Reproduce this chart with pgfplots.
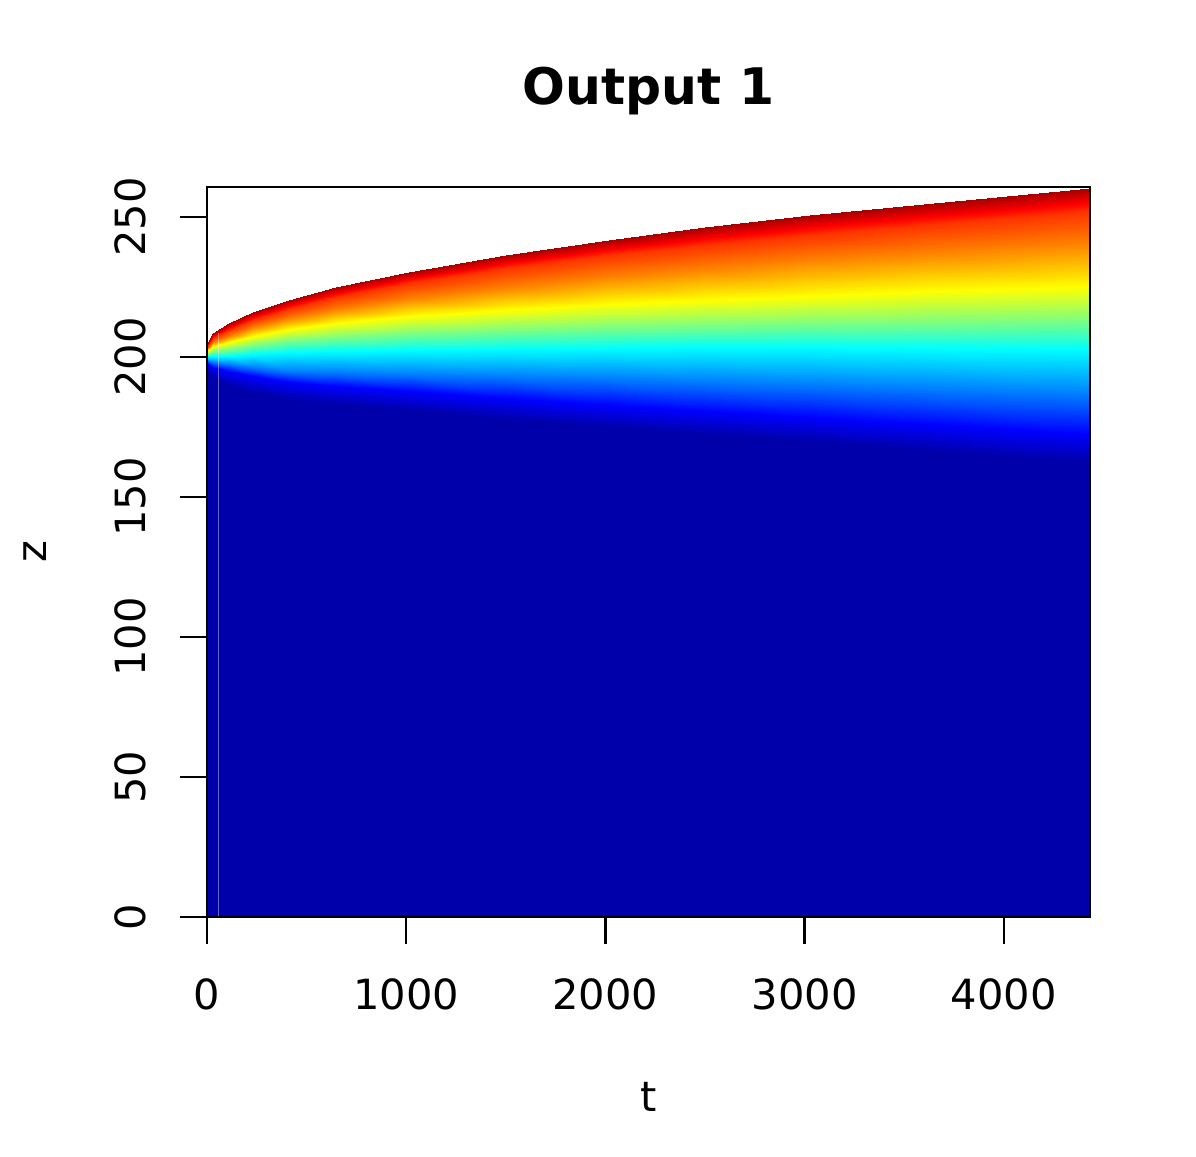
\documentclass[border=0pt]{standalone}
\usepackage{fontspec}
\setmainfont{DejaVu Sans}
\usepackage{pgfplots}
\pgfplotsset{compat=1.18}

\begin{document}
\begin{tikzpicture}
\path[use as bounding box] (-103.5pt,-120pt) rectangle (494.5pt,458.5pt);
\begin{axis}[
  at={(0pt,0pt)}, anchor=south west,
  scale only axis,
  width=441.5pt, height=365pt,
  xmin=0, xmax=4432, ymin=0, ymax=260.7,
  xtick={0,1000,2000,3000,4000},
  ytick={0,50,100,150,200,250},
  xtick pos=bottom, ytick pos=left,
  tick align=outside,
  major tick length=13.5pt,
  every tick/.style={black, line width=1.2pt},
  axis line style={black, line width=1.2pt},
  axis on top,
  /pgf/number format/assume math mode=true,
  /pgf/number format/1000 sep={},
  tick label style={font=\fontsize{20.8}{25}\selectfont},
  xticklabel style={anchor=center, yshift=-25pt},
  yticklabel style={rotate=90, anchor=center, yshift=25pt},
  xlabel={t}, ylabel={z},
  label style={font=\fontsize{20.8}{25}\selectfont},
  xlabel style={at={(axis description cs:0.5,0)}, anchor=center, yshift=-90pt},
  ylabel style={at={(axis description cs:0,0.5)}, anchor=center, yshift=86pt},
  title={Output 1},
  title style={at={(axis description cs:0.5,1)}, anchor=center, yshift=42pt, font=\bfseries\fontsize{25.2}{30}\selectfont},
  colormap={rjet}{rgb255=(0,0,127) rgb255=(0,0,255) rgb255=(0,127,255) rgb255=(0,255,255) rgb255=(127,255,127) rgb255=(255,255,0) rgb255=(255,127,0) rgb255=(255,0,0) rgb255=(127,0,0)},
  point meta min=0, point meta max=8,
]
\addplot[surf, shader=interp, mesh/ordering=y varies, mesh/rows=10, mesh/cols=14, point meta=explicit] table[x=t, y=z, meta=c] {
t z c
0 0 0.34
0 196 0.34
0 198 1
0 199 2
0 200.2 3
0 201.2 4
0 202.3 5
0 203 6
0 203.5 6.6
0 204.5 7.7
30 0 0.34
30 192.9 0.34
30 196.4 1
30 198.2 2
30 200.3 3
30 202.0 4
30 203.9 5
30 205.3 6
30 206.6 6.6
30 208.4 7.7
110 0 0.34
110 190 0.34
110 195 1
110 197.5 2
110 200.5 3
110 202.8 4
110 205.5 5
110 207.5 6
110 209.5 6.6
110 212 7.7
230 0 0.34
230 187.6 0.34
230 193.1 1
230 196.3 2
230 201.1 3
230 204.3 4
230 207.6 5
230 210.6 6
230 213.2 6.6
230 216.1 7.7
412 0 0.34
412 185 0.34
412 191 1
412 195 2
412 201.8 3
412 206 4
412 210 5
412 214 6
412 217.3 6.6
412 220.5 7.7
650 0 0.34
650 183.2 0.34
650 189.6 1
650 194.5 2
650 202.1 3
650 207.2 4
650 212.0 5
650 217.2 6
650 221.4 6.6
650 225.0 7.7
1015 0 0.34
1015 181 0.34
1015 188 1
1015 194 2
1015 202.5 3
1015 208.6 4
1015 214.5 5
1015 221 6
1015 226.3 6.6
1015 230.5 7.7
1500 0 0.34
1500 177.9 0.34
1500 185.4 1
1500 193.2 2
1500 202.9 3
1500 209.7 4
1500 216.8 5
1500 225.1 6
1500 231.6 6.6
1500 236.4 7.7
2020 0 0.34
2020 175 0.34
2020 183 1
2020 192.5 2
2020 203.2 3
2020 210.7 4
2020 218.8 5
2020 228.8 6
2020 236.3 6.6
2020 241.8 7.7
2500 0 0.34
2500 172.5 0.34
2500 180.7 1
2500 191.5 2
2500 203.4 3
2500 211.4 4
2500 220.3 5
2500 231.9 6
2500 240.0 6.6
2500 246.3 7.7
3025 0 0.34
3025 170 0.34
3025 178.5 1
3025 190.5 2
3025 203.4 3
3025 212 4
3025 221.7 5
3025 234.9 6
3025 243.7 6.6
3025 250.7 7.7
3600 0 0.34
3600 166.8 0.34
3600 176 1
3600 188.9 2
3600 203.1 3
3600 212.6 4
3600 223.4 5
3600 237.6 6
3600 247.2 6.6
3600 254.8 7.7
4330 0 0.34
4330 163 0.34
4330 173 1
4330 187 2
4330 202.8 3
4330 213.2 4
4330 225 5
4330 240.7 6
4330 251.4 6.6
4330 259.6 7.7
4432 0 0.34
4432 162.5 0.34
4432 172.6 1
4432 186.8 2
4432 202.8 3
4432 213.3 4
4432 225.1 5
4432 241.1 6
4432 252.1 6.6
4432 260.5 7.7
};
\addplot[white, opacity=0.4, line width=0.9pt] coordinates {(58,0) (58,208.5)};
\end{axis}
\end{tikzpicture}
\end{document}
